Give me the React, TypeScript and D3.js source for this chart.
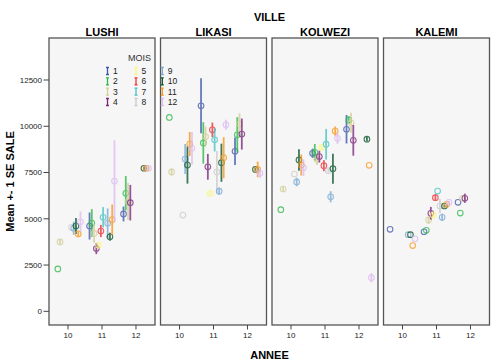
import React from "react";
import * as d3 from "d3";

// cities (panels) and months
const VILLES = ["LUSHI", "LIKASI", "KOLWEZI", "KALEMI"];
const MOIS = [1, 2, 3, 4, 5, 6, 7, 8, 9, 10, 11, 12];
const ANNEE_TICKS = [10, 11, 12];
const SALE_TICKS = [0, 2500, 5000, 7500, 10000, 12500];

// [annee, mois, mean, se]
const LUSHI = [
  [10, 2, 2290, 0], [10, 3, 3750, 150], [10, 8, 4540, 0], [10, 9, 4490, 350],
  [10, 10, 4610, 430], [10, 11, 4180, 150], [10, 12, 4840, 550],
  [11, 1, 4610, 730], [11, 2, 4770, 750], [11, 3, 4210, 500], [11, 4, 3390, 300],
  [11, 5, 3570, 100], [11, 6, 4340, 330], [11, 7, 5080, 550], [11, 9, 4760, 800],
  [11, 10, 4030, 220], [11, 11, 4950, 820], [11, 12, 7040, 2200],
  [12, 1, 5260, 400], [12, 2, 6380, 930], [12, 3, 5930, 1000], [12, 4, 5870, 960],
  [12, 10, 7730, 80], [12, 11, 7730, 120], [12, 12, 7730, 60],
];
const LIKASI = [
  [10, 2, 10480, 0], [10, 3, 7530, 200], [10, 8, 5200, 0], [10, 9, 8230, 810],
  [10, 10, 7900, 1000], [10, 11, 9040, 650], [10, 12, 8810, 880],
  [11, 1, 11110, 1490], [11, 2, 9100, 1120], [11, 3, 9440, 540], [11, 4, 7810, 700],
  [11, 5, 6380, 80], [11, 6, 9810, 390], [11, 7, 9270, 630], [11, 8, 7530, 1130],
  [11, 9, 6490, 200], [11, 10, 8030, 1030], [11, 11, 8300, 1110], [11, 12, 10080, 270],
  [12, 1, 8650, 740], [12, 2, 9540, 950], [12, 3, 10120, 580], [12, 4, 9580, 840],
  [12, 10, 7670, 80], [12, 11, 7670, 420], [12, 12, 7460, 250],
];
const KOLWEZI = [
  [10, 2, 5490, 0], [10, 3, 6610, 120], [10, 8, 7420, 0], [10, 9, 6990, 230],
  [10, 10, 8180, 580], [10, 11, 7910, 570], [10, 12, 7760, 450],
  [11, 1, 8540, 250], [11, 2, 8590, 450], [11, 3, 8210, 300], [11, 4, 8360, 320],
  [11, 5, 8860, 100], [11, 6, 7870, 300], [11, 7, 9030, 830], [11, 8, 7600, 100],
  [11, 9, 6190, 300], [11, 10, 7710, 810], [11, 11, 9740, 250], [11, 12, 9350, 300],
  [12, 1, 9840, 770], [12, 2, 10340, 200], [12, 3, 10190, 540], [12, 4, 9240, 830],
  [12, 10, 9300, 120], [12, 11, 7890, 0], [12, 12, 1820, 250],
];
const KALEMI = [
  [10, 1, 4430, 0], [10, 9, 4140, 0], [10, 10, 4140, 0], [10, 11, 3550, 0], [10, 12, 3920, 0],
  [11, 1, 4300, 0], [11, 2, 4380, 0], [11, 3, 4930, 200], [11, 4, 5300, 340],
  [11, 5, 5200, 100], [11, 6, 6140, 180], [11, 7, 6500, 0], [11, 8, 5690, 380],
  [11, 9, 5080, 200], [11, 10, 5690, 80], [11, 11, 5780, 80], [11, 12, 5890, 80],
  [12, 1, 5890, 0], [12, 2, 5310, 0], [12, 3, 6110, 0], [12, 4, 6110, 250],
];
const DATA = [LUSHI, LIKASI, KOLWEZI, KALEMI];

const COLORS = [
  "#3e58ac", "#2eb848", "#d3ce97", "#7c287d", "#fbf873", "#ef3338",
  "#48c2c5", "#cccccc", "#7aaad5", "#0a562c", "#f8981d", "#ddbaf1",
];

const W = 495;
const H = 362;
const left = 49;
const top = 38;
const bottom = 325;
const panelW = 106;
const gap = 5.5;
const font = "'Liberation Sans', Arial, sans-serif";

const App = () => {
  const y = d3.scaleLinear().domain([-740, 14770]).range([bottom, top]);
  const color = d3.scaleOrdinal<number, string>().domain(MOIS).range(COLORS);
  // clustered (dodged) position of each month around its year
  const dodge = d3.scaleBand<number>().domain(MOIS).range([-0.4, 0.4]);

  const legendCols = [107.5, 136, 162.3];
  const legendRows = [71, 81.3, 91.7, 102];

  return (
    <svg width={W} height={H} style={{ position: "absolute", left: 0, top: 0 }} fontFamily={font}>
      <rect width={W} height={H} fill="#fff" />
      <text x={269.5} y={21} textAnchor="middle" fontSize={11} fontWeight="bold">VILLE</text>

      {VILLES.map((v, i) => {
        const x0 = left + i * (panelW + gap);
        const x = d3.scaleLinear().domain([9.44, 12.56]).range([x0, x0 + panelW]);
        const rows = DATA[i];
        return (
          <g key={v}>
            <text x={x0 + panelW / 2} y={36} textAnchor="middle" fontSize={11} fontWeight="bold">{v}</text>
            <rect x={x0} y={top} width={panelW} height={bottom - top} fill="#f6f6f6" stroke="#555" strokeWidth={1.3} />
            {ANNEE_TICKS.map((t) => (
              <g key={t}>
                <line x1={x(t)} x2={x(t)} y1={bottom} y2={bottom + 4.5} stroke="#444" />
                <text x={x(t)} y={337.5} textAnchor="middle" fontSize={8} fill="#222">{t}</text>
              </g>
            ))}
            {rows.map(([a, m, mean, se]) => {
              const cx = x(a + dodge(m)! + dodge.bandwidth() / 2);
              return (
                <g key={`${a}-${m}`} opacity={0.78}>
                  {se > 0 && (
                    <line x1={cx} x2={cx} y1={y(mean + se)} y2={y(mean - se)} stroke={color(m)} strokeWidth={1.8} />
                  )}
                  <circle cx={cx} cy={y(mean)} r={2.8} fill="none" stroke={color(m)} strokeWidth={1.1} />
                </g>
              );
            })}
          </g>
        );
      })}

      {SALE_TICKS.map((t) => (
        <g key={t}>
          <line x1={43.5} x2={left} y1={y(t)} y2={y(t)} stroke="#444" />
          <text x={42} y={y(t)} dy="0.35em" textAnchor="end" fontSize={8} fill="#222">{t}</text>
        </g>
      ))}

      <text transform="translate(10,181.5) rotate(-90)" textAnchor="middle" dy="0.35em" fontSize={11} fontWeight="bold">
        Mean +- 1 SE SALE
      </text>
      <text x={269.5} y={359} textAnchor="middle" fontSize={11} fontWeight="bold">ANNEE</text>

      {/* legend */}
      <text x={151} y={61} textAnchor="end" fontSize={9} fill="#333">MOIS</text>
      {MOIS.map((m, k) => {
        const lx = legendCols[Math.floor(k / 4)];
        const ly = legendRows[k % 4];
        return (
          <g key={m}>
            <path
              d={`M${lx - 1.5},${ly - 3.5}h3M${lx},${ly - 3.5}v7M${lx - 1.5},${ly + 3.5}h3`}
              stroke={color(m)}
              strokeWidth={1.3}
              fill="none"
            />
            <text x={lx + 5.5} y={ly} dy="0.35em" fontSize={8.5} fill="#222">{m}</text>
          </g>
        );
      })}
    </svg>
  );
};

export default App;
